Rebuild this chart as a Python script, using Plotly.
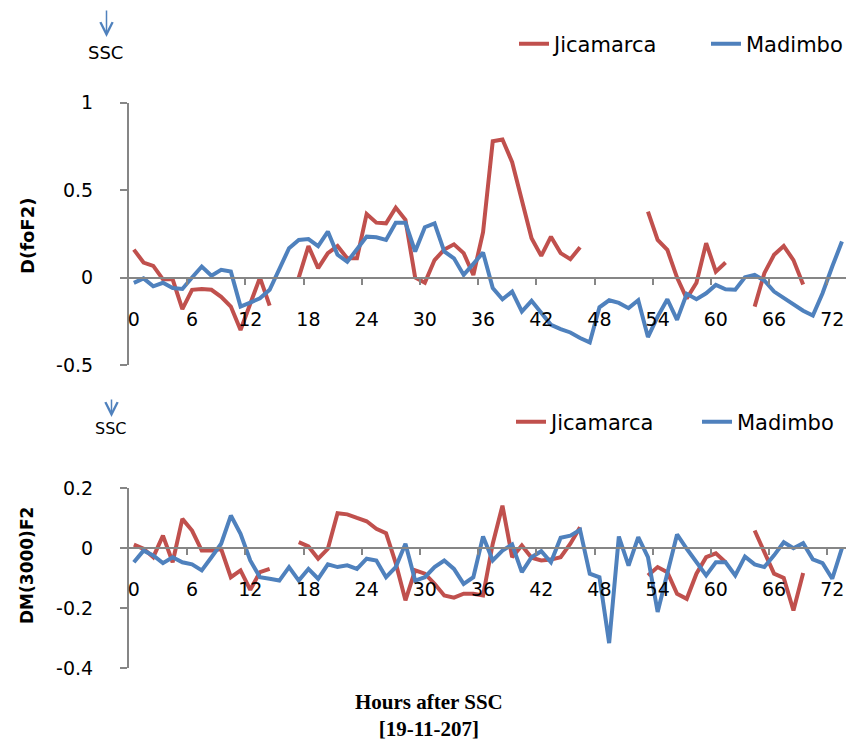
import plotly.graph_objects as go

hours = list(range(74))
tick_hours = list(range(0, 73, 6))
tick_labels = [str(h) for h in tick_hours]
boundary_ticks = [h - 0.5 for h in range(6, 73, 6)]

N = None
fof2_jicamarca = [0.16, 0.086, 0.067, -0.01, -0.01, -0.18, -0.07, -0.066, -0.07, -0.11,
                  -0.166, -0.30, -0.15, 0.0, -0.16, N, N, 0.0, 0.18, 0.054,
                  0.14, 0.18, 0.11, 0.11, 0.364, 0.314, 0.31, 0.40, 0.33, 0.0,
                  -0.03, 0.10, 0.16, 0.19, 0.14, 0.015, 0.26, 0.78, 0.79, 0.66,
                  0.45, 0.225, 0.124, 0.234, 0.14, 0.105, 0.174, N, N, N,
                  N, N, N, 0.377, 0.215, 0.158, 0.0, -0.12, -0.03, 0.197,
                  0.034, 0.086, N, N, -0.166, 0.025, 0.13, 0.18, 0.10, -0.04,
                  N, N, N, N]
fof2_madimbo = [-0.03, -0.005, -0.05, -0.03, -0.06, -0.065, 0.0, 0.063, 0.01, 0.044,
                0.034, -0.166, -0.143, -0.118, -0.07, 0.044, 0.168, 0.215, 0.22, 0.18,
                0.263, 0.13, 0.09, 0.162, 0.234, 0.23, 0.215, 0.314, 0.314, 0.149,
                0.288, 0.31, 0.149, 0.11, 0.015, 0.078, 0.143, -0.06, -0.124, -0.08,
                -0.194, -0.133, -0.204, -0.27, -0.295, -0.314, -0.346, -0.371, -0.17, -0.13,
                -0.145, -0.175, -0.13, -0.34, -0.223, -0.124, -0.242, -0.093, -0.124, -0.09,
                -0.042, -0.067, -0.07, 0.002, 0.015, -0.017, -0.08, -0.118, -0.156, -0.19,
                -0.217, -0.09, 0.063, 0.206]
m3000_jicamarca = [0.012, -0.002, -0.03, 0.042, -0.047, 0.098, 0.059, -0.008, -0.008, -0.003,
                   -0.097, -0.074, -0.139, -0.08, -0.069, N, N, 0.02, 0.006, -0.035,
                   -0.002, 0.117, 0.113, 0.101, 0.09, 0.065, 0.05, -0.05, -0.174, -0.074,
                   -0.085, -0.119, -0.158, -0.165, -0.152, -0.152, -0.158, 0.015, 0.142, -0.03,
                   0.009, -0.032, -0.041, -0.038, -0.03, 0.015, 0.07, N, N, N,
                   N, N, N, -0.091, -0.063, -0.08, -0.152, -0.169, -0.085, -0.03,
                   -0.017, -0.047, N, N, 0.059, -0.013, -0.085, -0.099, -0.208, -0.083,
                   N, N, N, N]
m3000_madimbo = [-0.047, -0.008, -0.024, -0.05, -0.03, -0.047, -0.054, -0.074, -0.03, 0.015,
                 0.109, 0.048, -0.041, -0.097, -0.102, -0.108, -0.063, -0.108, -0.069, -0.102,
                 -0.054, -0.063, -0.057, -0.069, -0.035, -0.041, -0.097, -0.063, 0.015, -0.108,
                 -0.097, -0.063, -0.041, -0.069, -0.119, -0.097, 0.039, -0.041, -0.008, 0.012,
                 -0.08, -0.03, -0.01, -0.047, 0.035, 0.042, 0.061, -0.085, -0.097, -0.317,
                 0.039, -0.058, 0.037, -0.03, -0.213, -0.085, 0.046, -0.002, -0.047, -0.091,
                 -0.047, -0.047, -0.091, -0.028, -0.054, -0.063, -0.024, 0.02, 0.0, 0.017,
                 -0.037, -0.05, -0.102, 0.0]

RED = "#C0504D"
BLUE = "#4F81BD"
GRAY = "#868686"
OFF = 8  # page body margin
W, H = 854 - 2 * OFF, 755 - 2 * OFF
SANS = "DejaVu Sans"
PX_PER_HOUR = 9.7

def px(x):
    return (x - OFF) / W

def py(y):
    return 1 - (y - OFF) / H

fig = go.Figure()
for name, vals, col, xa, ya, lg in [
    ("Jicamarca", fof2_jicamarca, RED, "x", "y", "legend"),
    ("Madimbo", fof2_madimbo, BLUE, "x", "y", "legend2"),
    ("Jicamarca", m3000_jicamarca, RED, "x2", "y2", "legend3"),
    ("Madimbo", m3000_madimbo, BLUE, "x2", "y2", "legend4"),
]:
    fig.add_trace(go.Scatter(x=hours, y=vals, mode="lines", name=name,
                             line=dict(color=col, width=4), xaxis=xa, yaxis=ya,
                             legend=lg, hoverinfo="skip"))

x_left, x_right = 129, OFF + W
xdom = [px(x_left), 1.0]
x_end = -0.5 + (x_right - x_left) / PX_PER_HOUR
common_x = dict(domain=xdom, range=[-0.5, x_end], anchor="free", showline=True,
                linecolor=GRAY, linewidth=2, showgrid=False, zeroline=False,
                automargin=False, ticklabeloverflow="allow",
                tickmode="array", tickvals=tick_hours, ticktext=tick_labels,
                ticks="", tickfont=dict(family=SANS, size=19, color="#000"),
                ticklabelstandoff=24,
                minor=dict(tickmode="array", tickvals=boundary_ticks, ticks="outside",
                           ticklen=6, tickwidth=2, tickcolor=GRAY))
common_y = dict(showline=True, linecolor=GRAY, linewidth=2, showgrid=False,
                zeroline=False, ticks="outside", ticklen=7, tickwidth=2, tickcolor=GRAY,
                automargin=False,
                tickfont=dict(family=SANS, size=19, color="#000"), ticklabelstandoff=23)

def leg(xpix, ypix):
    return dict(orientation="h", x=px(xpix), xanchor="left", y=py(ypix), yanchor="middle",
                font=dict(family=SANS, size=21, color="#000"), bgcolor="rgba(0,0,0,0)")

fig.update_layout(
    width=W, height=H, margin=dict(l=0, r=0, t=0, b=0, autoexpand=False),
    paper_bgcolor="white", plot_bgcolor="white", showlegend=True,
    xaxis=dict(common_x, position=py(277.7)),
    xaxis2=dict(common_x, position=py(547.7)),
    yaxis=dict(common_y, domain=[py(365), py(102.7)], range=[-0.5, 1], anchor="x",
               tickvals=[-0.5, 0, 0.5, 1], ticktext=["-0.5", "0", "0.5", "1"]),
    yaxis2=dict(common_y, domain=[py(668), py(488.3)], range=[-0.4, 0.2], anchor="x2",
                tickvals=[-0.4, -0.2, 0, 0.2], ticktext=["-0.4", "-0.2", "0", "0.2"]),
    legend=leg(514, 44),
    legend2=leg(706, 44),
    legend3=leg(511, 422),
    legend4=leg(697, 422),
)

def txt(text, x, y, size, family=SANS, angle=0):
    return dict(text=text, x=px(x), y=py(y), xref="paper", yref="paper",
                xanchor="center", yanchor="middle", showarrow=False, textangle=angle,
                font=dict(family=family, size=size, color="#000"))

ann = [
    txt("<b>D(foF2)</b>", 27, 236, 18, angle=-90),
    txt("<b>DM(3000)F2</b>", 27, 566, 17, angle=-90),
    txt("<b>Hours after SSC<br>[19-11-207]</b>", 429, 715, 21, family="Liberation Serif"),
    txt("SSC", 105, 52, 18),
    txt("SSC", 110, 428, 16),
]
ann.append(dict(text="", x=px(106.5), y=py(37), xref="paper", yref="paper",
                showarrow=True, ax=0, ay=-28, arrowhead=5, arrowsize=1.6, arrowwidth=1.5,
                arrowcolor=BLUE, standoff=0))
ann.append(dict(text="", x=px(111.5), y=py(417), xref="paper", yref="paper",
                showarrow=True, ax=0, ay=-19, arrowhead=5, arrowsize=1.6, arrowwidth=1.5,
                arrowcolor=BLUE, standoff=0))
fig.update_layout(annotations=ann)

fig.write_html("out.html")
